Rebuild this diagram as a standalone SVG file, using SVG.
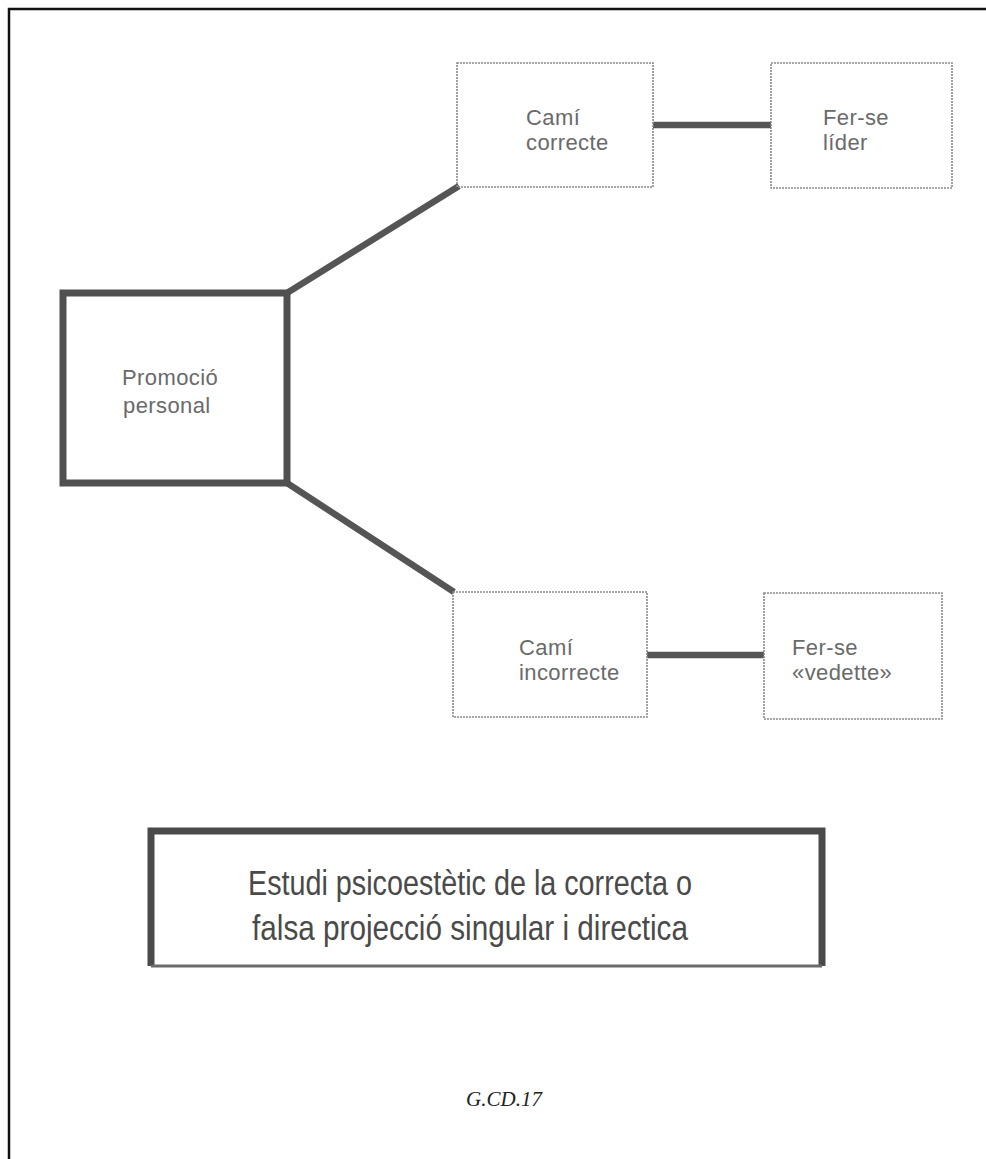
<svg xmlns="http://www.w3.org/2000/svg" width="986" height="1159" viewBox="0 0 986 1159">
<style>
.thin{fill:none;stroke:#8a8a8a;stroke-width:1.6;stroke-dasharray:2 1}
.thick{fill:none;stroke:#505050;stroke-width:7}
.conn{fill:none;stroke:#555;stroke-width:6.5;stroke-linecap:butt}
.lbl{font-family:"Liberation Sans",Arial,sans-serif;font-size:22px;fill:#6a6a6a;letter-spacing:0.4px}
.big{font-family:"Liberation Sans",Arial,sans-serif;font-size:35px;fill:#4a4a4a}
.code{font-family:"Liberation Serif","Times New Roman",serif;font-style:italic;font-size:21px;fill:#222}
</style>
<rect width="986" height="1159" fill="#fff"/>
<path d="M9 1159 V9 H986" fill="none" stroke="#111" stroke-width="2.5"/>
<g id="connectors">
<line class="conn" x1="287" y1="293" x2="459" y2="186"/>
<line class="conn" x1="287" y1="483" x2="454" y2="592"/>
<line class="conn" x1="653" y1="125" x2="771" y2="125"/>
<line class="conn" x1="647" y1="655" x2="764" y2="655"/>
</g>
<g id="promocio">
<rect class="thick" x="63" y="293" width="224" height="190"/>
<text class="lbl" x="122" y="385">Promoció</text>
<text class="lbl" x="123" y="413">personal</text>
</g>
<g id="cami-correcte">
<rect class="thin" x="457" y="63" width="196" height="124"/>
<text class="lbl" x="526" y="125">Camí</text>
<text class="lbl" x="526" y="150">correcte</text>
</g>
<g id="lider">
<rect class="thin" x="771" y="63" width="181" height="125"/>
<text class="lbl" x="823" y="125">Fer-se</text>
<text class="lbl" x="823" y="150">líder</text>
</g>
<g id="cami-incorrecte">
<rect class="thin" x="453" y="592" width="194" height="125"/>
<text class="lbl" x="519" y="655">Camí</text>
<text class="lbl" x="519" y="680">incorrecte</text>
</g>
<g id="vedette">
<rect class="thin" x="764" y="593" width="178" height="126"/>
<text class="lbl" x="792" y="655">Fer-se</text>
<text class="lbl" x="792" y="680">«vedette»</text>
</g>
<g id="estudi">
<path d="M151 966 V831 H822 V966" fill="none" stroke="#4a4a4a" stroke-width="7"/>
<line x1="151" y1="966" x2="822" y2="966" stroke="#6a6a6a" stroke-width="3"/>
<text class="big" x="248" y="895" textLength="444" lengthAdjust="spacingAndGlyphs">Estudi psicoestètic de la correcta o</text>
<text class="big" x="252" y="940" textLength="436" lengthAdjust="spacingAndGlyphs">falsa projecció singular i directica</text>
</g>
<text class="code" x="504" y="1106" text-anchor="middle">G.CD.17</text>
</svg>
